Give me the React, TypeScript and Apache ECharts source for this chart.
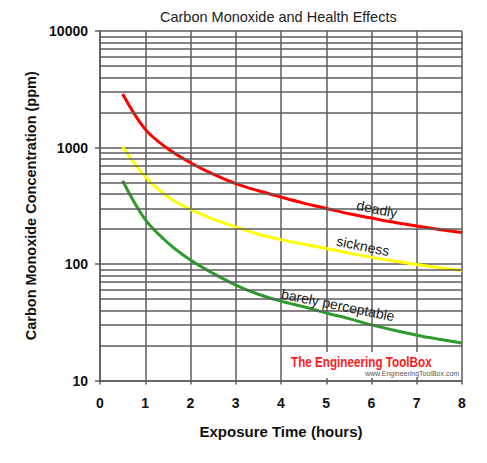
import React, { useEffect, useRef } from "react";
import * as echarts from "echarts";

const hours = [0.5, 1, 1.5, 2, 2.5, 3, 3.5, 4, 4.5, 5, 5.5, 6, 6.5, 7, 7.5, 8];
const deadly = [2880, 1430, 975, 740, 590, 490, 425, 375, 333, 300, 270, 248, 228, 212, 198, 186];
const sickness = [1010, 560, 377, 294, 243, 208, 180, 162, 148, 136, 124, 114, 106, 99, 93, 88];
const barely = [518, 240, 152, 108, 83, 66, 55, 48, 43, 38, 34, 30, 27, 24.5, 22.6, 21];
const minorLevels = [
  20, 30, 40, 50, 60, 70, 80, 90,
  200, 300, 400, 500, 600, 700, 800, 900,
  2000, 3000, 4000, 5000, 6000, 7000, 8000, 9000,
];

const FONT = "'Liberation Sans', Arial, sans-serif";
const GRID_COLOR = "#5c5c5c";

function pairs(ys: number[]) {
  return hours.map((h, i) => [h, ys[i]]);
}

export default function App() {
  const ref = useRef<HTMLDivElement>(null);
  useEffect(() => {
    if (!ref.current) return;
    const chart = echarts.init(ref.current, undefined, { renderer: "svg" });
    const lineLbl = (text: string, x: number, y: number, rot: number) => ({
      type: "text",
      x,
      y,
      rotation: rot,
      z: 20,
      style: {
        text,
        fill: "#222",
        font: `14px ${FONT}`,
        align: "center",
        verticalAlign: "middle",
      },
    });
    const curve = (name: string, ys: number[], color: string) => ({
      name,
      type: "line",
      data: pairs(ys),
      smooth: 0.35,
      showSymbol: false,
      z: 3,
      lineStyle: { color, width: 3 },
      itemStyle: { color },
    });
    chart.setOption({
      animation: false,
      backgroundColor: "#fff",
      title: {
        text: "Carbon Monoxide and Health Effects",
        left: 155,
        top: 4,
        textStyle: { fontFamily: FONT, fontSize: 14.5, fontWeight: "normal", color: "#222" },
      },
      grid: { left: 100, right: 25, top: 31, bottom: 82.5 },
      xAxis: {
        type: "value",
        min: 0,
        max: 8,
        interval: 1,
        name: "Exposure Time (hours)",
        nameLocation: "middle",
        nameGap: 43,
        nameTextStyle: { fontFamily: FONT, fontSize: 15, fontWeight: "bold", color: "#111" },
        axisLine: { lineStyle: { color: GRID_COLOR, width: 1.5 } },
        axisTick: { show: true, length: 4, lineStyle: { color: GRID_COLOR, width: 1.5 } },
        axisLabel: { margin: 15, fontFamily: FONT, fontSize: 14, fontWeight: "bold", color: "#111" },
        splitLine: { show: true, lineStyle: { color: GRID_COLOR, width: 1.5 } },
      },
      yAxis: {
        type: "log",
        logBase: 10,
        min: 10,
        max: 10000,
        name: "Carbon Monoxide Concentration (ppm)",
        nameLocation: "middle",
        nameGap: 62,
        nameTextStyle: { fontFamily: FONT, fontSize: 14.5, fontWeight: "bold", color: "#111" },
        axisLine: { show: true, lineStyle: { color: GRID_COLOR, width: 1.5 } },
        axisTick: { show: true, length: 5, lineStyle: { color: GRID_COLOR, width: 1.5 } },
        axisLabel: {
          margin: 12,
          fontFamily: FONT,
          fontSize: 14,
          fontWeight: "bold",
          color: "#111",
          formatter: (v: number) => String(Math.round(v)),
        },
        splitLine: { show: true, lineStyle: { color: GRID_COLOR, width: 1.5 } },
      },
      series: [
        {
          name: "grid",
          type: "line",
          data: [],
          z: 1,
          silent: true,
          markLine: {
            silent: true,
            symbol: ["none", "none"],
            label: { show: false },
            lineStyle: { color: GRID_COLOR, width: 1.5, type: "solid" },
            data: minorLevels.map((v) => ({ yAxis: v })),
          },
        },
        curve("deadly", deadly, "#ff0000"),
        curve("sickness", sickness, "#ffff00"),
        curve("barely perceptable", barely, "#2f9a2f"),
      ],
      graphic: [
        {
          type: "rect",
          z: 15,
          shape: { x: 290, y: 352, width: 170, height: 26 },
          style: { fill: "#fff" },
        },
        {
          type: "text",
          z: 20,
          x: 291,
          y: 362,
          scaleX: 0.78,
          style: {
            text: "The Engineering ToolBox",
            fill: "#ff1a1a",
            font: `bold 15px ${FONT}`,
            align: "left",
            verticalAlign: "middle",
          },
        },
        {
          type: "text",
          z: 20,
          x: 365,
          y: 373,
          style: {
            text: "www.EngineeringToolBox.com",
            fill: "#555",
            font: `7px ${FONT}`,
            align: "left",
            verticalAlign: "middle",
          },
        },
        lineLbl("deadly", 377, 209, -0.2),
        lineLbl("sickness", 363, 246, -0.2),
        lineLbl("barely perceptable", 338, 305, -0.2),
      ],
    });
    return () => chart.dispose();
  }, []);
  return (
    <div
      ref={ref}
      style={{ position: "fixed", left: 0, top: 0, width: 487, height: 463 }}
    />
  );
}
